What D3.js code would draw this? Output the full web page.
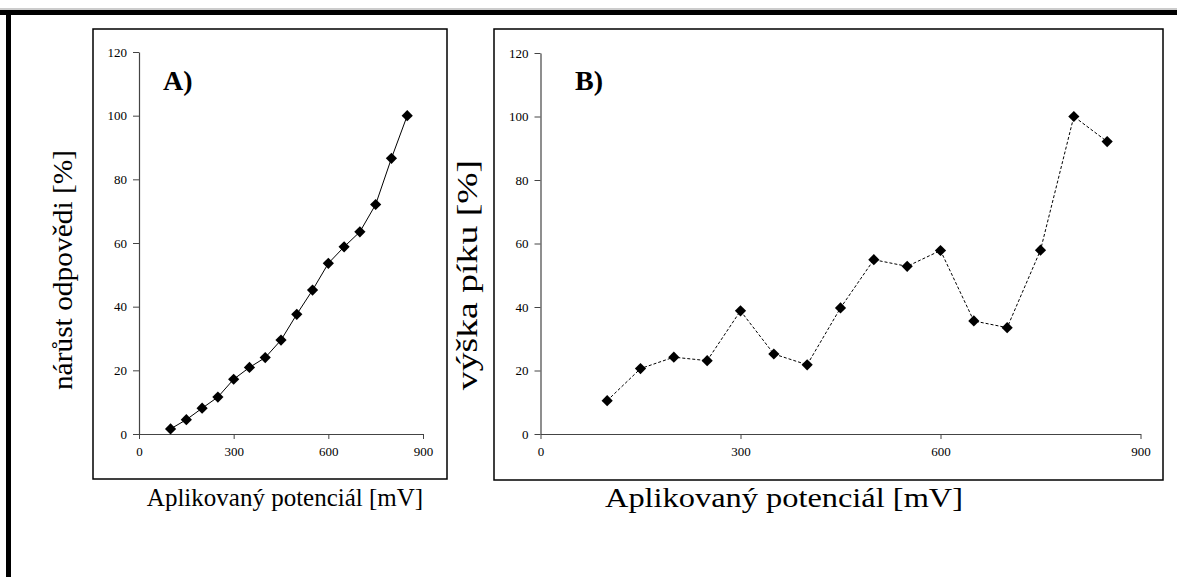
<!DOCTYPE html>
<html>
<head>
<meta charset="utf-8">
<script src="https://cdn.jsdelivr.net/npm/d3@7"></script>
<style>
  body { margin: 0; background: #fff; }
  svg text { font-family: "Liberation Serif", "Times New Roman", serif; fill: #000; }
</style>
</head>
<body>
<div id="chart"></div>
<script>
// data
var potential = [100, 150, 200, 250, 300, 350, 400, 450, 500, 550, 600, 650, 700, 750, 800, 850];
var responseA = [1.6, 4.5, 8.1, 11.6, 17.2, 20.9, 24.0, 29.5, 37.6, 45.2, 53.6, 58.8, 63.5, 72.1, 86.6, 100];
var peakB = [10.5, 20.6, 24.2, 23.1, 38.8, 25.2, 21.8, 39.7, 54.9, 52.8, 57.8, 35.6, 33.5, 57.9, 100, 92.1];
var xTicks = [0, 300, 600, 900];
var yTicks = [0, 20, 40, 60, 80, 100, 120];

var W = 1177, H = 577;

var svg = d3.select("#chart")
  .append("svg")
  .attr("width", W)
  .attr("height", H);

// outer frame (top + left bars)
svg.append("line").attr("x1", 0).attr("x2", W).attr("y1", 9).attr("y2", 9)
  .attr("stroke", "#999").attr("stroke-width", 1);
svg.append("rect").attr("x", 0).attr("y", 10).attr("width", W).attr("height", 5).attr("fill", "#000");
svg.append("rect").attr("x", 6).attr("y", 10).attr("width", 5).attr("height", H).attr("fill", "#000");

// one panel of the figure
function drawPanel(p) {
  svg.append("rect")
    .attr("x", p.box[0]).attr("y", p.box[1])
    .attr("width", p.box[2] - p.box[0]).attr("height", p.box[3] - p.box[1])
    .attr("fill", "#fff").attr("stroke", "#000").attr("stroke-width", 1.5);

  var x = d3.scaleLinear().domain([0, 900]).range([p.x0, p.x1]);
  var y = d3.scaleLinear().domain([0, 120]).range([p.y0, p.y1]);

  var g = svg.append("g");

  var xAxis = g.append("g")
    .attr("transform", "translate(0," + p.y0 + ")")
    .call(d3.axisBottom(x).tickValues(xTicks).tickSize(5).tickPadding(8).tickSizeOuter(0));
  var yAxis = g.append("g")
    .attr("transform", "translate(" + p.x0 + ",0)")
    .call(d3.axisLeft(y).tickValues(yTicks).tickSize(6).tickPadding(6).tickSizeOuter(0));

  [xAxis, yAxis].forEach(function(a) {
    a.select(".domain").attr("stroke", "#444").attr("stroke-width", 1.2);
    a.selectAll(".tick line").attr("stroke", "#444").attr("stroke-width", 1);
    a.selectAll(".tick text")
      .style("font-family", "Liberation Serif, serif")
      .style("font-size", "13px")
      .attr("fill", "#000");
  });

  var pts = potential.map(function(v, i) { return [v, p.values[i]]; });

  g.append("path")
    .datum(pts)
    .attr("fill", "none")
    .attr("stroke", "#000")
    .attr("stroke-width", 1)
    .attr("stroke-dasharray", p.dash)
    .attr("d", d3.line().x(function(d) { return x(d[0]); }).y(function(d) { return y(d[1]); }));

  g.selectAll(".pt")
    .data(pts)
    .enter()
    .append("path")
    .attr("class", "pt")
    .attr("transform", function(d) { return "translate(" + x(d[0]) + "," + y(d[1]) + ")"; })
    .attr("d", d3.symbol().type(d3.symbolDiamond2).size(80))
    .attr("fill", "#000");

  g.append("text")
    .attr("x", p.tag[0]).attr("y", p.tag[1])
    .style("font-size", "28px").style("font-weight", "bold")
    .text(p.label);

  // axis titles, stretched along the reading direction like in the scan
  svg.append("text")
    .attr("transform", "translate(" + p.xTitle[0] + "," + p.xTitle[1] + ") scale(" + p.xTitle[3] + ",1)")
    .attr("text-anchor", "middle")
    .style("font-size", p.xTitle[2] + "px")
    .text("Aplikovaný potenciál [mV]");

  svg.append("text")
    .attr("transform", "translate(" + p.yTitle[0] + "," + p.yTitle[1] + ") rotate(-90) scale(" + p.yTitle[3] + ",1)")
    .attr("text-anchor", "middle")
    .style("font-size", p.yTitle[2] + "px")
    .text(p.yLabel);
}

drawPanel({
  box: [93, 29, 447, 479],
  x0: 139, x1: 423, y0: 434, y1: 52,
  values: responseA, dash: null,
  tag: [163, 90], label: "A)",
  xTitle: [285, 506, 25, 1], yTitle: [72, 270, 27, 1.09],
  yLabel: "nárůst odpovědi [%]"
});

drawPanel({
  box: [494, 29, 1163, 480],
  x0: 540.5, x1: 1140.5, y0: 434, y1: 53,
  values: peakB, dash: "3,2",
  tag: [575, 90], label: "B)",
  xTitle: [784, 507, 27, 1.2], yTitle: [477, 275, 29, 1.3],
  yLabel: "výška píku [%]"
});
</script>
</body>
</html>
